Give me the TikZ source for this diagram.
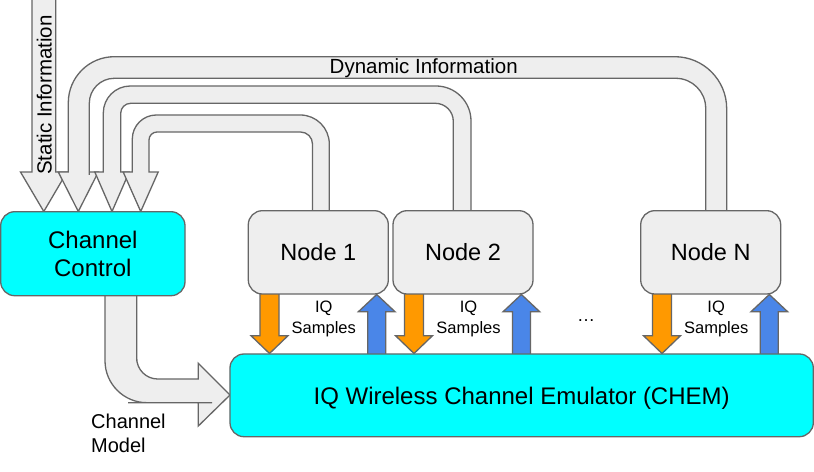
\documentclass[tikz,border=0pt]{standalone}
\usepackage{fontspec}
\setmainfont{Liberation Sans}
\usetikzlibrary{calc}
\definecolor{cyanfill}{HTML}{00FFFF}
\definecolor{nodegray}{HTML}{EEEEEE}
\definecolor{arrowgray}{HTML}{EEEEEE}
\definecolor{linegray}{HTML}{666666}
\definecolor{orangefill}{HTML}{FF9900}
\definecolor{bluefill}{HTML}{4A86E8}
\newcommand\iqdown[1]{%
  \draw[blockarrow, fill=orangefill] (#1-9.5,288) -- (#1-9.5,335.7) -- (#1-18.5,335.7) -- (#1,353.5) -- (#1+18.5,335.7) -- (#1+9.5,335.7) -- (#1+9.5,288) -- cycle;}
\newcommand\iqup[1]{%
  \draw[blockarrow, fill=bluefill] (#1-9,360) -- (#1-9,311.7) -- (#1-18.3,311.7) -- (#1,294.5) -- (#1+18.3,311.7) -- (#1+9,311.7) -- (#1+9,360) -- cycle;}
\begin{document}
\begin{tikzpicture}[x=1bp,y=-1bp,
  blockarrow/.style={draw=linegray, line width=1.3bp, miter limit=4, fill=arrowgray},
  box/.style={draw=linegray, line width=1.3bp, rounded corners=14bp, inner sep=0pt, text depth=0pt, align=center},
  nodebox/.style={box, fill=nodegray, minimum width=140bp, minimum height=83.3bp, font=\fontsize{23.5bp}{28bp}\selectfont},
  cyanbox/.style={box, fill=cyanfill, font=\fontsize{24bp}{27.7bp}\selectfont},
  labeltext/.style={inner sep=0pt, font=\fontsize{20.5bp}{24bp}\selectfont},
  iqlabel/.style={inner sep=0pt, align=center, font=\fontsize{16.5bp}{21bp}\selectfont},
  cmlabel/.style={inner sep=0pt, align=left, font=\fontsize{20bp}{24.4bp}\selectfont}]
\useasboundingbox (0,0) rectangle (814,472);
\fill[white] (0,0) rectangle (814,472);
\clip (0,0) rectangle (814,472);

% static information arrow
\draw[blockarrow] (32,-5) -- (32,172) -- (20.5,172) -- (43.8,211.5) -- (67,172) -- (55.7,172) -- (55.7,-5) -- cycle;
\node[labeltext, rotate=90, anchor=base] (stat) at (51.5,95) {Static Information};

% dynamic information arrow from Node N
\draw[blockarrow] (705.7,216) -- (705.7,200) [rounded corners=30bp] -- (705.7,78.3) -- (400,78.3) [rounded corners=25bp] -- (89.3,78.3) -- (89.3,150) [sharp corners] -- (89.3,172) -- (98.3,172) -- (78.3,211.5) -- (58.3,172) -- (68.3,172) -- (68.3,150) [rounded corners=46bp] -- (68.3,56.7) -- (400,56.7) [rounded corners=52bp] -- (726.7,56.7) -- (726.7,200) [sharp corners] -- (726.7,216) -- cycle;
\node[labeltext, anchor=base] (dyn) at (423.7,73.3) {Dynamic Information};

% arrow from Node 2
\draw[blockarrow] (453.3,216) -- (453.3,200) [rounded corners=18bp] -- (453.3,103.3) -- (300,103.3) [rounded corners=10bp] -- (120.7,103.3) -- (120.7,150) [sharp corners] -- (120.7,172) -- (129.2,172) -- (112,211.5) -- (94.8,172) -- (103.3,172) -- (103.3,150) [rounded corners=27bp] -- (103.3,86) -- (300,86) [rounded corners=35bp] -- (471,86) -- (471,200) [sharp corners] -- (471,216) -- cycle;

% arrow from Node 1
\draw[blockarrow] (312.5,216) -- (312.5,200) [rounded corners=12bp] -- (312.5,132) -- (230,132) [rounded corners=8bp] -- (149,132) -- (149,150) [sharp corners] -- (149,172) -- (158.2,172) -- (140.7,211.5) -- (123.2,172) -- (132.3,172) -- (132.3,150) [rounded corners=24bp] -- (132.3,115) -- (230,115) [rounded corners=29bp] -- (329.3,115) -- (329.3,200) [sharp corners] -- (329.3,216) -- cycle;

% channel model arrow
\draw[blockarrow] (105,290) -- (105,330) [rounded corners=42bp] -- (105,402.7) -- (170,402.7) [sharp corners] -- (198.3,402.7) -- (198.3,426) -- (230,395) -- (198.3,363.3) -- (198.3,379) -- (170,379) [rounded corners=21bp] -- (136.7,379) -- (136.7,340) [sharp corners] -- (136.7,290) -- cycle;
\node[cmlabel, anchor=west] (cmodel) at (91,433.2) {Channel\\Model};

% IQ sample arrows
\iqdown{269.5}
\iqup{376.7}
\iqdown{414}
\iqup{521.4}
\iqdown{662}
\iqup{769.3}

% boxes
\node[cyanbox, minimum width=184.3bp, minimum height=84bp] (cc) at (92.85,253.7) {Channel\\Control};
\node[nodebox] (n1) at (318.3,252.35) {Node 1};
\node[nodebox] (n2) at (463,252.35) {Node 2};
\node[nodebox] (nN) at (710.7,252.35) {Node N};
\node[cyanbox, minimum width=583.3bp, minimum height=82.7bp] (chem) at (521.65,395.35) {IQ Wireless Channel Emulator (CHEM)};

% labels
\node[iqlabel] (iq1) at ($(n1.south)+(5.5,24.5)$) {IQ\\Samples};
\node[iqlabel] (iq2) at ($(n2.south)+(5.5,24.5)$) {IQ\\Samples};
\node[iqlabel] (iqN) at ($(nN.south)+(5.5,24.5)$) {IQ\\Samples};
\node[inner sep=0pt, anchor=base, font=\fontsize{18bp}{20bp}\selectfont] (dots) at (586,321.5) {…};
\end{tikzpicture}
\end{document}
